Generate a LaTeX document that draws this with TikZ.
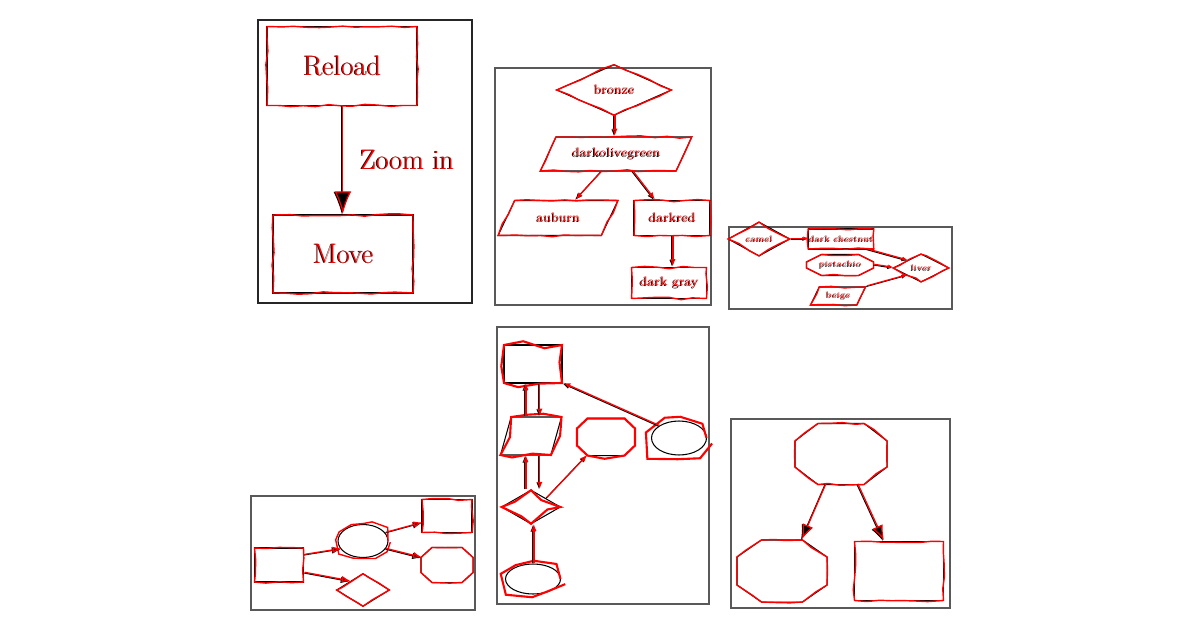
\documentclass[tikz,border=0pt]{standalone}
\usetikzlibrary{arrows.meta,shapes.geometric,decorations.pathmorphing,calc}
\newcommand\inked[1]{\rlap{#1}\textcolor{red}{\raisebox{0.5pt}{\kern0.5pt#1}}}
% octagon traced round a named holder node: style, node, chamfer x, chamfer y
\newcommand\eightgon[4]{%
  \draw[#1] ([xshift=#3]#2.north west) -- ([xshift=-#3]#2.north east)
    -- ([yshift=-#4]#2.north east) -- ([yshift=#4]#2.south east)
    -- ([xshift=-#3]#2.south east) -- ([xshift=#3]#2.south west)
    -- ([yshift=#4]#2.south west) -- ([yshift=-#4]#2.north west) -- cycle;}
\begin{document}
\begin{tikzpicture}[x=0.02cm, y=-0.02cm, line width=0.6pt,
  sketch/.style={postaction={draw=red, line width=0.8pt, decorate,
      decoration={random steps, segment length=7pt, amplitude=0.7pt}}},
  scrawl/.style={postaction={draw=red, line width=1.2pt, decorate,
      decoration={random steps, segment length=10pt, amplitude=2.5pt}}},
  box/.style={draw, rectangle, inner sep=0pt},
  rhomb/.style={draw, diamond, inner sep=0pt},
  oval/.style={draw, ellipse, inner sep=0pt},
  slant/.style={draw, trapezium, trapezium stretches=true, inner sep=1pt,
      trapezium left angle=#1, trapezium right angle={180-#1}},
  holder/.style={rectangle, inner sep=0pt},
  link/.style={-{Latex[length=#1]}, postaction={draw=red, line width=0.7pt,
      -{Latex[open, length=#1]}, transform canvas={shift={(0.5pt,0.4pt)}}}},
  link/.default=5pt,
  frame/.style={draw=black!65, line width=0.7pt},
  big/.style={font=\fontsize{16}{19}\selectfont},
  small/.style={font=\fontsize{7}{8}\selectfont},
  tiny/.style={font=\fontsize{4.5}{5}\selectfont}]
\pgfmathsetseed{5}
\useasboundingbox (0,0) rectangle (1200,632);

% frames
\draw[frame, draw=black!85] (258,20) rectangle (472,303);
\draw[frame] (495,68) rectangle (711,305);
\draw[frame] (729,227) rectangle (952,309);
\draw[frame] (251,496) rectangle (475,610);
\draw[frame] (497,327) rectangle (709,604);
\draw[frame] (731,419) rectangle (950,608);

% Reload / Move
\node[box, sketch, big, minimum width=3cm, minimum height=1.58cm] (reload) at (342,66) {\inked{Reload}};
\node[box, sketch, big, minimum width=2.8cm, minimum height=1.56cm] (move) at (343,254) {\inked{Move}};
\node[big, anchor=west] (zoomin) at (353,160) {\inked{Zoom in}};
\draw[link=0.45cm] (reload.south) -- (reload.south |- move.north);

% colour tree
\node[rhomb, sketch, small, minimum width=2.3cm, minimum height=0.72cm] (bronze) at (614,90) {\inked{bronze}};
\node[slant=52, sketch, small, minimum width=3.04cm, minimum height=0.68cm] (olive) at (616,154) {\inked{darkolivegreen}};
\node[slant=55, sketch, small, minimum width=2.4cm, minimum height=0.7cm] (auburn) at (558,218) {\inked{auburn}};
\node[box, sketch, small, minimum width=1.52cm, minimum height=0.7cm] (darkred) at (672,218) {\inked{darkred}};
\node[box, sketch, small, minimum width=1.5cm, minimum height=0.62cm] (darkgray) at (669,283) {\inked{dark gray}};
\draw[link=4pt] (bronze.south) -- (bronze.south |- olive.north);
\draw[link=4pt] ([xshift=-0.3cm]olive.south) -- ([xshift=0.34cm]auburn.north);
\draw[link=4pt] ([xshift=0.32cm]olive.south) -- ([xshift=-0.36cm]darkred.north);
\draw[link=4pt] (darkred.south) -- (darkred.south |- darkgray.north);

% small row
\node[rhomb, sketch, tiny, minimum width=1.24cm, minimum height=0.36cm] (camel) at (759,239) {\inked{camel}};
\node[box, sketch, tiny, minimum width=1.14cm, minimum height=0.4cm] (chestnut) at (841,239) {\inked{dark chestnut}};
\node[holder, tiny, minimum width=1.32cm, minimum height=0.4cm] (pistachio) at (840,265) {\inked{pistachio}};
\eightgon{draw, sketch}{pistachio}{0.3cm}{0.15cm}
\node[rhomb, sketch, tiny, minimum width=1.12cm, minimum height=0.38cm] (liver) at (921,268) {\inked{liver}};
\node[slant=60, sketch, tiny, minimum width=1.1cm, minimum height=0.36cm] (beige) at (838,296) {\inked{beige}};
\draw[link=3pt] (camel.east) -- (chestnut.west);
\draw[link=3pt] ([xshift=-0.16cm]chestnut.south east) -- (liver.north west);
\draw[link=3pt] (pistachio.east) -- (liver.west);
\draw[link=3pt] (beige.top right corner) -- (liver.south west);

% fan out
\node[box, sketch, minimum width=0.98cm, minimum height=0.68cm] (src) at (279,565) {};
\node[oval, sketch, minimum width=1cm, minimum height=0.66cm] (hub) at (363,541) {};
\node[rhomb, sketch, minimum width=1.06cm, minimum height=0.66cm] (gem) at (363,590) {};
\node[box, sketch, minimum width=1cm, minimum height=0.66cm] (sink) at (447,516) {};
\node[holder, minimum width=1.02cm, minimum height=0.68cm] (stop) at (447,565) {};
\eightgon{draw, sketch}{stop}{0.22cm}{0.2cm}
\draw[link=5pt] ([yshift=0.2cm]src.east) -- (hub.200);
\draw[link=5pt] ([yshift=-0.16cm]src.east) -- (gem.north west);
\draw[link=5pt] (hub.20) -- ([yshift=-0.14cm]sink.west);
\draw[link=5pt] (hub.-20) -- ([yshift=0.14cm]stop.west);

% scribbled graph
\node[box, scrawl, minimum width=1.16cm, minimum height=0.76cm] (top) at (533,364) {};
\node[slant=75, scrawl, minimum width=1.22cm, minimum height=0.76cm] (mid) at (531,436) {};
\node[holder, minimum width=1.14cm, minimum height=0.72cm] (hexa) at (606,437) {};
\eightgon{draw, scrawl}{hexa}{0.21cm}{0.2cm}
\node[oval, scrawl, minimum width=1.1cm, minimum height=0.68cm] (far) at (679,438) {};
\node[rhomb, scrawl, minimum width=1.18cm, minimum height=0.68cm] (knot) at (531,507) {};
\node[oval, scrawl, minimum width=1.1cm, minimum height=0.6cm] (root) at (533,579) {};
\draw[link=4pt] ([xshift=0.12cm]top.south) -- ([xshift=0.12cm]top.south |- mid.north);
\draw[link=4pt] ([xshift=-0.12cm]mid.north) -- ([xshift=-0.12cm]mid.north |- top.south);
\draw[link=4pt] (far.150) -- (top.south east);
\draw[link=4pt] ([xshift=-0.12cm]knot.north) -- ([xshift=-0.12cm]knot.north |- mid.south);
\draw[link=4pt] ([xshift=0.16cm]mid.south) -- ([xshift=0.16cm]mid.south |- knot.north);
\draw[link=4pt] (knot.north east) -- ([xshift=0.19cm]hexa.south west);
\draw[link=4pt] (root.north) -- (root.north |- knot.south);

% octagon split
\node[holder, minimum width=1.82cm, minimum height=1.2cm] (upper) at (841,454) {};
\eightgon{draw, sketch}{upper}{0.46cm}{0.35cm}
\node[holder, minimum width=1.78cm, minimum height=1.22cm] (lower) at (782,571) {};
\eightgon{draw, sketch}{lower}{0.49cm}{0.34cm}
\node[box, sketch, minimum width=1.78cm, minimum height=1.18cm] (panel) at (899,571) {};
\draw[link=0.3cm] ([xshift=-0.32cm]upper.south) -- ([xshift=0.38cm]lower.north);
\draw[link=0.3cm] ([xshift=0.32cm]upper.south) -- ([xshift=-0.32cm]panel.north);
\end{tikzpicture}
\end{document}
